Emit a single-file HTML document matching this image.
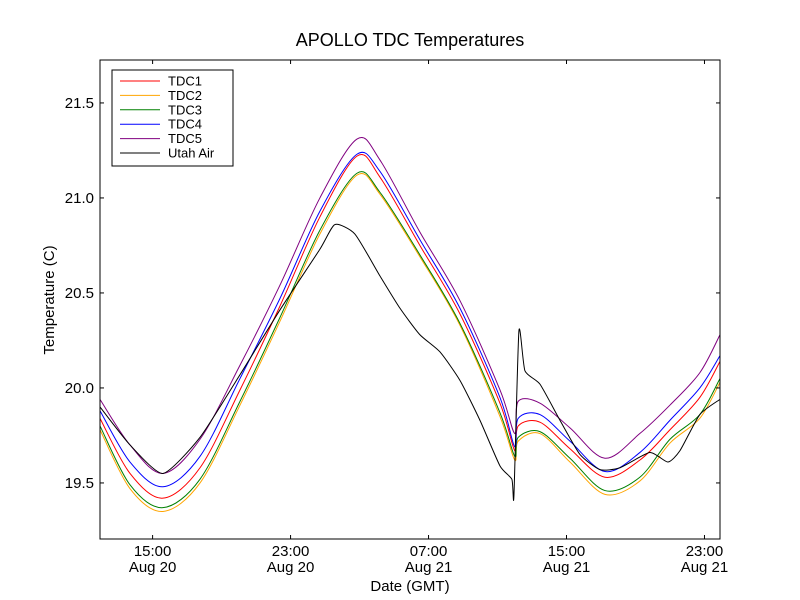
<!DOCTYPE html>
<html><head><meta charset="utf-8"><style>body{margin:0;background:#fff}svg{display:block;font-family:"Liberation Sans","DejaVu Sans",sans-serif}</style></head>
<body>
<svg id="c" width="800" height="600"></svg>
<script>
const hours=[11.95,13.69,15.6,17.75,20.07,22.38,24.7,26.85,28.18,30.5,32.82,35.14,36.0,36.2,37.46,39.2,41.23,43.25,45.0,46.73,47.9];
const tdc1=[19.84,19.55,19.42,19.58,19.99,20.43,20.90,21.22,21.11,20.75,20.39,19.92,19.67,19.80,19.82,19.68,19.53,19.62,19.78,19.95,20.14];
const tdc2=[19.78,19.47,19.35,19.50,19.91,20.35,20.81,21.12,21.02,20.69,20.33,19.85,19.62,19.72,19.76,19.61,19.44,19.51,19.71,19.84,20.03];
const tdc3=[19.80,19.49,19.37,19.52,19.93,20.37,20.83,21.13,21.03,20.70,20.34,19.87,19.64,19.74,19.77,19.63,19.46,19.53,19.73,19.86,20.05];
const tdc4=[19.88,19.61,19.48,19.64,20.05,20.47,20.93,21.23,21.14,20.78,20.42,19.95,19.69,19.84,19.86,19.72,19.56,19.66,19.83,20.00,20.17];
const tdc5=[19.94,19.70,19.55,19.73,20.12,20.54,21.00,21.31,21.20,20.82,20.46,19.99,19.76,19.93,19.92,19.79,19.63,19.76,19.91,20.08,20.28];
const airHours=[11.95,13.69,15.6,17.75,20.07,22.38,24.7,25.57,26.73,28.18,29.34,30.5,31.66,32.82,33.98,35.14,35.83,35.95,36.24,36.59,37.46,38.62,39.78,40.94,42.1,43.83,44.88,45.58,46.73,47.9];
const air=[19.90,19.70,19.55,19.74,20.07,20.41,20.73,20.86,20.81,20.59,20.42,20.28,20.19,20.04,19.83,19.59,19.52,19.43,20.30,20.09,20.02,19.83,19.65,19.57,19.58,19.66,19.61,19.67,19.86,19.94];
const yTicks=[19.5,20.0,20.5,21.0,21.5];
const yTickLabels=["19.5","20.0","20.5","21.0","21.5"];
const xTicks=[15,23,31,39,47];
const xTickLabels=[["15:00","Aug 20"],["23:00","Aug 20"],["07:00","Aug 21"],["15:00","Aug 21"],["23:00","Aug 21"]];
const series=[["TDC1",tdc1,"#ff0000"],["TDC2",tdc2,"#ffa500"],["TDC3",tdc3,"#008000"],["TDC4",tdc4,"#0000ff"],["TDC5",tdc5,"#800080"],["Utah Air",air,"#000000"]];

const L=100,R=720,T=60,B=539,xmin=11.95,xmax=47.9,ymin=19.205,ymax=21.726;
const X=h=>L+(h-xmin)/(xmax-xmin)*(R-L);
const Y=v=>B-(v-ymin)/(ymax-ymin)*(B-T);
const svg=document.getElementById('c');const NS='http://www.w3.org/2000/svg';
function mk(t,a,p){const e=document.createElementNS(NS,t);for(const k in a)e.setAttribute(k,a[k]);(p||svg).appendChild(e);return e;}
function pathFor(hs,vs,t){const p=hs.map((h,i)=>[X(h),Y(vs[i])]);let d='M'+p[0][0]+','+p[0][1];
for(let i=0;i<p.length-1;i++){const p0=p[Math.max(0,i-1)],p1=p[i],p2=p[i+1],p3=p[Math.min(p.length-1,i+2)];
const c1=[p1[0]+(p2[0]-p0[0])*t,p1[1]+(p2[1]-p0[1])*t],c2=[p2[0]-(p3[0]-p1[0])*t,p2[1]-(p3[1]-p1[1])*t];
d+=' C'+c1+' '+c2+' '+p2;}return d;}
const title=mk('text',{x:410,y:46,'text-anchor':'middle','font-size':18});title.textContent='APOLLO TDC Temperatures';

const g=mk('g',{});

series.forEach(s=>{const isAir=s[0]==='Utah Air';const hs=isAir?airHours:hours;const p=mk('path',{d:pathFor(hs,s[1],isAir?0.1:0.16),fill:'none',stroke:s[2],'stroke-width':1},g);
});
const fr=mk('rect',{x:L,y:T,width:R-L,height:B-T,fill:'none',stroke:'#000','stroke-width':1});

yTicks.forEach((v,i)=>{const y=Y(v);mk('line',{x1:L,x2:L+4,y1:y,y2:y,stroke:'#000'});mk('line',{x1:R,x2:R-4,y1:y,y2:y,stroke:'#000'});
const t=mk('text',{x:L-6,y:y+5,'text-anchor':'end','font-size':15});t.textContent=yTickLabels[i];
});
xTicks.forEach((h,i)=>{const x=X(h);mk('line',{x1:x,x2:x,y1:B,y2:B-4,stroke:'#000'});mk('line',{x1:x,x2:x,y1:T,y2:T+4,stroke:'#000'});
const t=mk('text',{x:x,y:B+17,'text-anchor':'middle','font-size':15});t.textContent=xTickLabels[i][0];

const t2=mk('text',{x:x,y:B+33,'text-anchor':'middle','font-size':15});t2.textContent=xTickLabels[i][1];
});
const xl=mk('text',{x:410,y:591,'text-anchor':'middle','font-size':15});xl.textContent='Date (GMT)';

const yl=mk('text',{x:0,y:0,'text-anchor':'middle','font-size':15,transform:'translate(54,300) rotate(-90)'});yl.textContent='Temperature (C)';

const lg=mk('g',{});

mk('rect',{x:112,y:70,width:121,height:96,fill:'#fff',stroke:'#000'},lg);
series.forEach((s,i)=>{const y=81+i*14.4;mk('line',{x1:120,x2:160,y1:y,y2:y,stroke:s[2]},lg);
const t=mk('text',{x:168,y:y+4.5,'font-size':13},lg);t.textContent=s[0];
});
</script>
</body></html>
